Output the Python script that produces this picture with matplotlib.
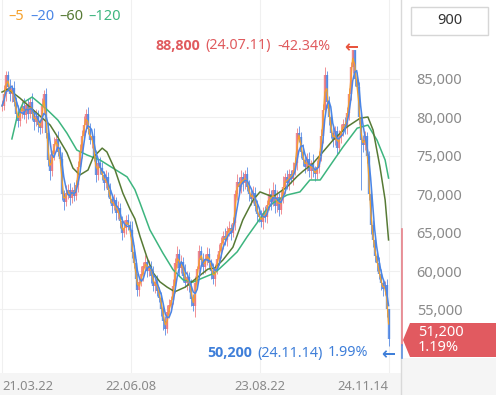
import matplotlib
matplotlib.use("Agg")
import matplotlib.pyplot as plt
import matplotlib.patches as mpatches
from matplotlib.lines import Line2D
import numpy as np
import pandas as pd

plt.rcParams["font.family"] = ["Noto Sans", "DejaVu Sans"]

W, H = 496, 395

# closing prices (thousand won), read roughly every ~4.6 trading days
closes = [
    81.5, 83.0, 85.5, 84.0, 83.0, 83.8, 82.0, 80.5, 79.5, 80.8,
    81.5, 80.3, 81.6, 80.5, 82.0, 80.4, 79.4, 80.2, 79.0, 78.6,
    81.5, 83.0, 78.0, 74.5, 73.0, 75.2, 76.5, 77.2, 75.5, 74.6,
    70.0, 69.0, 70.2, 70.6, 69.5, 70.5, 69.8, 71.2, 73.5, 75.5,
    77.6, 79.0, 80.5, 78.5, 77.0, 77.6, 75.0, 72.5, 74.0, 73.4,
    72.5, 71.5, 72.2, 70.5, 69.4, 68.5, 69.2, 67.5, 68.2, 66.5,
    65.0, 65.6, 66.6, 66.0, 65.4,
    62.5, 61.0, 59.0, 57.5, 58.6, 59.6, 60.6, 61.2, 60.0, 60.6,
    59.4, 58.0, 58.6, 57.4, 56.5, 55.0, 53.5, 52.5, 54.6, 55.6,
    56.2, 58.0, 61.0, 62.2, 60.4, 61.2, 59.4, 58.5, 59.2, 58.0,
    56.4, 55.4, 58.5, 60.2, 62.6, 61.4, 60.5, 61.6, 62.2, 61.0,
    60.0, 59.0, 60.2, 61.6, 62.6, 63.6, 64.6, 64.0, 65.2, 65.6,
    65.0, 66.2,
    70.0, 71.6, 71.0, 72.2, 71.4, 72.6, 71.0, 70.0, 69.4, 70.2,
    68.5, 67.4, 67.0, 66.4, 67.6, 67.0, 68.6, 70.0, 69.0, 70.6,
    68.4, 69.6, 68.0, 69.6, 71.0, 72.2, 71.4, 72.6, 72.0, 73.2,
    74.0, 78.0, 77.4,
    75.5, 74.4, 73.6, 74.6, 73.0, 74.0, 73.0, 72.6, 73.6, 75.0,
    77.6, 81.0, 85.5, 82.0, 80.0, 78.0, 77.0, 78.2, 76.0, 77.6,
    78.2, 79.2, 78.6, 80.6, 83.0, 86.6, 88.8, 85.0, 84.0, 80.0,
    77.0, 76.4, 77.6, 75.0, 70.0, 66.0, 64.0, 62.0, 61.0, 59.6,
    58.4, 57.6, 58.2, 55.0, 51.2,
]
# wick lengths above / below the body (thousand won)
upper_wick = [
    0.8, 1.2, 0.5, 0.6, 1.0, 0.4, 0.9, 0.7, 1.1, 0.5,
    0.6, 1.0, 0.4, 0.8, 0.5, 1.2, 0.6, 0.9, 0.7, 0.5,
    1.0, 0.6, 0.8, 1.1, 0.7, 0.5, 0.9, 0.6, 1.0, 0.8,
    0.9, 0.6, 1.0, 0.7, 0.8, 0.5, 1.1, 0.6, 0.8, 1.0,
    0.7, 1.2, 0.6, 0.9, 0.8, 0.5, 1.0, 0.7, 0.6, 0.9,
    0.8, 0.5, 0.9, 0.7, 1.0, 0.6, 0.8, 0.5, 0.9, 0.7,
    0.6, 1.0, 0.7, 0.8, 0.5, 1.1, 0.9, 0.6, 0.8, 0.7,
    1.0, 0.6, 0.9, 0.5, 0.8, 0.7, 1.2, 0.6, 0.9, 0.5,
    0.8, 0.7, 0.6, 1.0, 0.8, 0.5, 0.9, 0.7, 1.1, 0.6,
    0.9, 0.6, 1.5, 0.8, 0.7, 1.0, 0.6, 0.9, 0.5, 0.8,
    0.7, 1.0, 0.6, 0.9, 0.8, 0.5, 1.0, 0.7, 0.6, 0.9,
    0.8, 0.6, 1.0, 0.7, 0.9, 0.5, 0.8, 0.6, 1.0, 0.7,
    0.9, 0.7, 0.6, 1.0, 0.8, 0.5, 0.9, 0.7, 0.8, 0.6,
    1.0, 0.7, 0.9, 0.6, 0.8, 0.5, 1.0, 0.7, 0.9, 0.6,
    0.8, 1.4, 0.6, 0.9, 0.7, 0.5, 1.0, 0.8, 0.6, 0.9,
    0.7, 1.0, 0.6, 0.8, 0.9, 0.5, 1.2, 0.7, 0.8, 0.6,
    0.9, 0.7, 1.0, 0.6, 0.8, 0.5, 0.9, 0.7, 0.7, 0.8,
    1.0, 0.6, 0.9, 0.7, 0.8, 0.6, 0.0, 0.0, 0.9, 0.6,
    0.8, 0.7, 0.6, 0.5, 0.6, 0.8, 0.7, 0.5, 0.6, 0.8,
    0.7, 0.6, 0.5, 0.8, 0.0,
]
lower_wick = [
    0.7, 0.5, 0.9, 0.6, 0.8, 1.0, 0.5, 0.9, 0.7, 0.6,
    0.9, 0.5, 1.0, 0.7, 0.6, 0.8, 1.1, 0.5, 0.9, 0.7,
    0.6, 0.9, 0.7, 0.8, 1.2, 0.6, 0.7, 0.9, 0.5, 0.8,
    0.7, 1.0, 0.6, 0.8, 0.9, 0.6, 0.7, 0.5, 0.9, 0.6,
    0.8, 0.6, 0.9, 0.7, 0.5, 1.0, 0.7, 0.9, 0.6, 0.8,
    0.6, 0.9, 0.7, 0.8, 0.6, 1.0, 0.5, 0.8, 0.7, 0.9,
    1.0, 0.6, 0.8, 0.7, 0.9, 0.8, 0.6, 1.0, 0.7, 0.8,
    0.6, 0.9, 0.5, 0.8, 0.7, 1.0, 0.6, 0.9, 0.7, 0.6,
    0.9, 1.2, 0.8, 0.6, 0.7, 0.9, 0.5, 0.8, 0.6, 0.9,
    0.7, 0.8, 0.6, 1.0, 0.7, 0.9, 0.6, 1.4, 0.7, 0.8,
    0.6, 0.9, 0.7, 0.8, 0.6, 1.0, 0.7, 0.9, 0.6, 0.8,
    0.9, 0.7, 0.6, 0.8, 0.7, 1.0, 0.6, 0.9, 0.7, 0.8,
    0.8, 1.0, 0.7, 0.6, 0.9, 0.8, 0.6, 0.7, 1.0, 0.6,
    0.7, 0.9, 0.6, 0.8, 0.7, 1.0, 0.6, 0.8, 0.7, 0.9,
    0.6, 0.8, 1.0, 0.7, 0.9, 0.6, 0.8, 0.7, 0.9, 0.6,
    0.8, 0.7, 0.9, 0.6, 0.8, 1.0, 0.7, 0.9, 0.6, 0.8,
    0.7, 0.9, 0.6, 0.8, 1.0, 0.7, 0.9, 0.6, 0.8, 0.7,
    0.9, 0.6, 0.8, 0.7, 1.0, 0.7, 0.8, 0.9, 0.7, 0.8,
    6.5, 0.9, 0.7, 1.0, 0.8, 1.2, 0.9, 0.8, 1.0, 0.7,
    0.9, 0.8, 0.7, 1.0, 1.0,
]

# 60 and 120 day moving averages (trading-day index, thousand won)
ma60_day = [0, 14, 42, 72, 112, 130, 151, 165, 181, 200, 212, 233, 244, 263, 281,
            298, 309, 321, 337, 351, 367, 384, 402, 426, 453, 479, 495, 514, 537,
            560, 584, 600, 630, 663, 686, 700, 723, 744, 770, 802, 833, 851, 863,
            879, 891, 899]
ma60_val = [83.3, 83.7, 82.5, 81.0, 79.0, 77.4, 75.4, 73.4, 72.5, 73.15, 74.8, 76.0,
            75.5, 73.15, 70.15, 68.0, 66.8, 64.5, 61.8, 59.8, 58.6, 57.9, 57.3, 57.9,
            59.1, 60.25, 60.4, 61.45, 63.1, 66.65, 69.25, 70.3, 69.65, 70.95, 72.3,
            73.0, 74.0, 75.35, 77.05, 78.75, 79.9, 80.05, 78.35, 73.55, 69.25, 64.05]
ma120_day = [23, 35, 49, 70, 84, 105, 130, 151, 174, 198, 228, 258, 291, 309, 321,
             344, 374, 398, 421, 444, 467, 495, 523, 547, 570, 593, 612, 630, 663,
             693, 716, 740, 767, 793, 826, 851, 872, 891, 899]
ma120_val = [77.2, 80.05, 81.9, 82.65, 82.0, 81.0, 79.65, 77.95, 75.75, 75.1, 74.45,
             73.4, 72.25, 70.6, 68.85, 65.35, 62.35, 60.15, 58.85, 58.55, 59.1, 59.75,
             61.2, 62.5, 64.45, 66.25, 67.8, 68.85, 69.9, 70.3, 71.85, 71.85, 74.05,
             76.15, 78.6, 79.0, 77.05, 74.45, 72.1]

date_ticks = [0, 300, 600, 899]
date_labels = ["21.03.22", "22.06.08", "23.08.22", "24.11.14"]
price_ticks = [55000, 60000, 65000, 70000, 75000, 80000, 85000]

UP, DOWN = "#ef7479", "#4d84e2"
C5, C20, C60, C120 = "#f5a12c", "#4b86e6", "#577a35", "#3db57f"
RED_TXT, BLUE_TXT = "#e05b5e", "#3f7fd9"
BOLD_FONT = ["Open Sans", "Noto Sans", "DejaVu Sans"]


def fx(px):
    return px / W


def fy(py):
    return 1 - py / H


fig = plt.figure(figsize=(W / 100, H / 100), dpi=100)

# bottom date band and right-panel base
fig.add_artist(mpatches.Rectangle((0, 0), 1, fy(373), transform=fig.transFigure,
                                  facecolor="#f5f5f5", edgecolor="none", zorder=-2))
fig.add_artist(mpatches.Rectangle((fx(401), 0), 1 - fx(401), fy(358), transform=fig.transFigure,
                                  facecolor="#f5f5f5", edgecolor="none", zorder=-2))

ax = fig.add_axes([0, fy(373), fx(400), 373 / H])
ax.patch.set_alpha(0)

prices = np.array(closes) * 1000
days = np.linspace(0, 899, len(prices))
opens = np.r_[prices[0], prices[:-1]]
highs = np.maximum(opens, prices) + np.array(upper_wick) * 1000
lows = np.minimum(opens, prices) - np.array(lower_wick) * 1000
colors = [UP if c >= o else DOWN for o, c in zip(opens, prices)]
ax.vlines(days, lows, highs, colors=colors, lw=0.7, alpha=0.8, zorder=2)
ax.vlines(days, opens, prices, colors=colors, lw=1.7, alpha=0.85, zorder=2)

step = days[1] - days[0]
s = pd.Series(prices)
ma5 = s.rolling(2, min_periods=1).mean()
ma20 = s.rolling(round(20 / step), min_periods=1).mean()

ax.plot(ma120_day, np.array(ma120_val) * 1000, color=C120, lw=1.1, zorder=3)
ax.plot(ma60_day, np.array(ma60_val) * 1000, color=C60, lw=1.1, zorder=3)
ax.plot(days, ma5, color=C5, lw=0.9, zorder=4)
ax.plot(days, ma20, color=C20, lw=1.1, zorder=4)

ax.set_xlim(-4.65, 925.6)
ax.set_ylim(85000 - (373 - 79) * 5000 / 38.4, 85000 + 79 * 5000 / 38.4)

ax.set_xticks(date_ticks, date_labels)
xl = ax.get_xticklabels()
xl[0].set_ha("left")
xl[-1].set_ha("right")
ax.tick_params(axis="x", length=0, pad=5, labelsize=9.3, labelcolor="#8a8a8a")

ax.yaxis.tick_right()
ax.set_yticks(price_ticks, [f"{v:,}" for v in price_ticks])
ax.tick_params(axis="y", length=0, pad=12, labelsize=10.5, labelcolor="#8a8a8a")

ax.grid(True, color="#f0f0f0", lw=0.8, zorder=0)
ax.set_axisbelow(True)
for sp in ax.spines.values():
    sp.set_visible(False)

# panel separator
fig.add_artist(Line2D([fx(400.5)] * 2, [0, 1], color="#d9d9d9", lw=1, transform=fig.transFigure))

# legend
for xp, txt, c in [(8, "–5", C5), (30, "–20", C20), (59, "–60", C60), (88, "–120", C120)]:
    fig.text(fx(xp), fy(17), txt, color=c, fontsize=10.5, va="center", ha="left")

# period box
fig.add_artist(mpatches.Rectangle((fx(411), fy(35)), fx(77), 28 / H, transform=fig.transFigure,
                                  facecolor="white", edgecolor="#d6d6d6", lw=1))
fig.text(fx(449.5), fy(21), "900", color="#333333", fontsize=10.5, ha="center", va="center")

# high / low annotations
high_i = int(np.argmax(highs))
low_i = int(np.argmin(lows))
fig.text(fx(155), fy(46), f"{highs[high_i]:,.0f}", color=RED_TXT, fontsize=10.3,
         fontweight="bold", family=BOLD_FONT, va="center")
fig.text(fx(205), fy(46), "(24.07.11)", color=RED_TXT, fontsize=10.3, va="center")
fig.text(fx(277), fy(46), "-42.34%", color=RED_TXT, fontsize=10.3, va="center")
fig.text(fx(344), fy(47), "←", color="#e8553e", fontsize=12, fontweight="bold", va="center",
         family="DejaVu Sans")

fig.text(fx(207), fy(353), f"{lows[low_i]:,.0f}", color=BLUE_TXT, fontsize=10.3,
         fontweight="bold", family=BOLD_FONT, va="center")
fig.text(fx(257), fy(353), "(24.11.14)", color=BLUE_TXT, fontsize=10.3, va="center")
fig.text(fx(328), fy(353), "1.99%", color=BLUE_TXT, fontsize=10.3, va="center")
fig.text(fx(381), fy(354), "←", color=BLUE_TXT, fontsize=12, fontweight="bold", va="center",
         family="DejaVu Sans")

# current price tag
fig.add_artist(Line2D([fx(401.5)] * 2, [fy(229), fy(345)], color="#e8828a", lw=1.2,
                      transform=fig.transFigure))
fig.add_artist(Line2D([fx(401.5)] * 2, [fy(345), fy(358)], color="#5b8fe0", lw=1.2,
                      transform=fig.transFigure))
tag = [(403, 340), (410, 323), (496, 323), (496, 357), (410, 357)]
fig.add_artist(mpatches.Polygon([(fx(a), fy(b)) for a, b in tag], closed=True,
                                transform=fig.transFigure, facecolor="#e15a60", edgecolor="none"))
fig.text(fx(418), fy(332), f"{prices[-1]:,.0f}", color="white", fontsize=10.5, va="center")
fig.text(fx(418), fy(347.5), "1.19%", color="white", fontsize=10.5, va="center")

fig.savefig("out.png", dpi=100)
